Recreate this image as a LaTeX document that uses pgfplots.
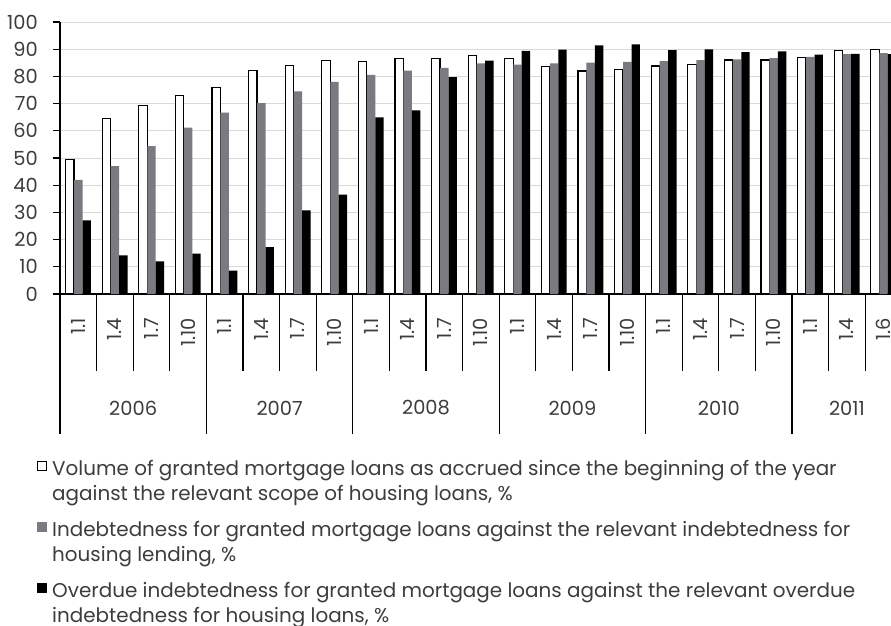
\documentclass[border=0pt]{standalone}
\usepackage{fontspec}
\setmainfont{Poppins}
\usepackage{pgfplots}
\pgfplotsset{compat=1.18}
\definecolor{barGray}{RGB}{122,122,128}
\definecolor{txt}{RGB}{60,60,60}
\definecolor{gridc}{RGB}{217,217,217}
\pgfplotsset{
  whitesq/.style={legend image code/.code={\draw[##1,/tikz/.cd] (0.6bp,10.6bp) rectangle (9.4bp,19.4bp);}},
  fillsq/.style={legend image code/.code={\fill[##1,/tikz/.cd] (0bp,10bp) rectangle (10bp,20bp);}},
}
\begin{document}
\begin{tikzpicture}
\begin{axis}[
  at={(0,0)}, anchor=south west,
  scale only axis, width=841.8bp, height=272bp,
  xmin=-0.5, xmax=22.5, ymin=0, ymax=100,
  axis x line*=bottom, axis y line*=left,
  axis line style={black, line width=1.5bp},
  ytick={0,10,...,100},
  tick align=outside, major tick length=7bp,
  ytick style={black, line width=1.2bp},
  ymajorgrids, major grid style={gridc, line width=1bp},
  xtick={0,...,22},
  xticklabels={1.1,1.4,1.7,1.10,1.1,1.4,1.7,1.10,1.1,1.4,1.7,1.10,1.1,1.4,1.7,1.10,1.1,1.4,1.7,1.10,1.1,1.4,1.6},
  xtick style={draw=none},
  /pgf/number format/assume math mode=true,
  tick label style={font=\fontsize{19.5}{22}\selectfont, text=txt, inner sep=0pt},
  xticklabel style={rotate=90, anchor=east},
  xticklabel shift=17bp,
  yticklabel style={anchor=east},
  yticklabel shift=15bp,
  clip=false,
  legend style={at={(-0.0273,-0.61)}, anchor=north west, draw=none, fill=none, inner sep=0pt,
    font=\fontsize{20}{25}\selectfont, text=txt, nodes={align=left, inner sep=0pt},
    row sep=19.5bp, column sep=5bp},
  legend cell align=left,
]
\addplot[ybar, bar width=0.23, bar shift=-0.23, fill=white, draw=black, line width=1.2bp, whitesq]
  coordinates {(0,49.4) (1,64.4) (2,69.4) (3,72.9) (4,75.9) (5,82.1) (6,84.0) (7,85.8) (8,85.6) (9,86.7) (10,86.5) (11,87.6) (12,86.7) (13,83.5) (14,82.0) (15,82.4) (16,83.8) (17,84.4) (18,86.0) (19,86.0) (20,87.0) (21,89.4) (22,89.9)};
\addlegendentry{Volume of granted mortgage loans as accrued since the beginning of the year\\against the relevant scope of housing loans, \%}
\addplot[ybar, bar width=0.23, bar shift=0, fill=barGray, draw=none, fillsq]
  coordinates {(0,42.0) (1,47.0) (2,54.4) (3,61.2) (4,66.7) (5,70.2) (6,74.5) (7,78.0) (8,80.6) (9,82.1) (10,83.1) (11,84.8) (12,84.3) (13,84.8) (14,85.1) (15,85.3) (16,85.6) (17,86.0) (18,86.3) (19,86.7) (20,87.2) (21,88.2) (22,88.6)};
\addlegendentry{Indebtedness for granted mortgage loans against the relevant indebtedness for\\housing lending, \%}
\addplot[ybar, bar width=0.23, bar shift=0.23, fill=black, draw=none, fillsq]
  coordinates {(0,27.1) (1,14.2) (2,12.0) (3,14.8) (4,8.6) (5,17.2) (6,30.7) (7,36.5) (8,64.9) (9,67.5) (10,79.7) (11,85.8) (12,89.4) (13,89.8) (14,91.4) (15,91.8) (16,89.7) (17,89.9) (18,88.9) (19,89.2) (20,88.0) (21,88.3) (22,88.2)};
\addlegendentry{Overdue indebtedness for granted mortgage loans against the relevant overdue\\indebtedness for housing loans, \%}
\pgfplotsinvokeforeach{-0.5,0.5,...,22.5}{\draw[black, line width=1.2bp] (axis cs:#1,0) -- ++(0bp,-77bp);}
\pgfplotsinvokeforeach{-0.5,3.5,7.5,11.5,15.5,19.5}{\draw[black, line width=1.2bp] (axis cs:#1,0) -- ++(0bp,-140bp);}
\node[font=\fontsize{19.5}{22}\selectfont, text=txt] at ([yshift=-114bp]axis cs:1.5,0) {2006};
\node[font=\fontsize{19.5}{22}\selectfont, text=txt] at ([yshift=-114bp]axis cs:5.5,0) {2007};
\node[font=\fontsize{19.5}{22}\selectfont, text=txt] at ([yshift=-114bp]axis cs:9.5,0) {2008};
\node[font=\fontsize{19.5}{22}\selectfont, text=txt] at ([yshift=-114bp]axis cs:13.5,0) {2009};
\node[font=\fontsize{19.5}{22}\selectfont, text=txt] at ([yshift=-114bp]axis cs:17.5,0) {2010};
\node[font=\fontsize{19.5}{22}\selectfont, text=txt] at ([yshift=-114bp]axis cs:21,0) {2011};
\end{axis}
\pgfresetboundingbox
\path[use as bounding box] (-60bp,-332bp) rectangle (831bp,294bp);
\end{tikzpicture}
\end{document}
